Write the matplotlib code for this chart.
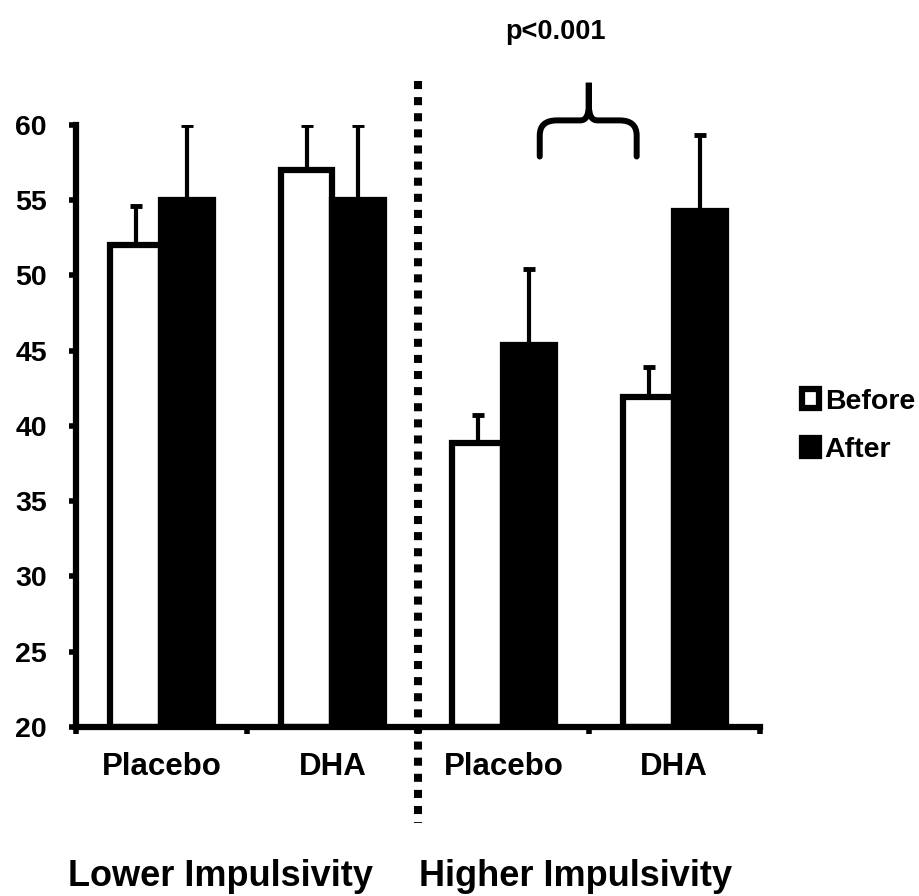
import matplotlib
matplotlib.use("Agg")
import matplotlib.pyplot as plt
from matplotlib.path import Path
from matplotlib.patches import PathPatch
import numpy as np

plt.rcParams['font.family'] = ['Liberation Sans', 'DejaVu Sans']
plt.rcParams['font.weight'] = 'bold'

# data
categories = ['Placebo', 'DHA', 'Placebo', 'DHA']
groups = ['Lower Impulsivity', 'Higher Impulsivity']
before = [52.0, 57.0, 38.9, 41.9]
before_err = [2.6, 3.0, 1.8, 2.0]
after = [55.0, 55.0, 45.4, 54.3]
after_err = [5.0, 5.0, 5.0, 5.0]
yticks = [20, 25, 30, 35, 40, 45, 50, 55, 60]
sig_label = 'p<0.001'

fig = plt.figure(figsize=(9.19, 8.96), dpi=100)
ax = fig.add_axes([0.0827, 0.1886, 0.744, 0.672])

x = np.arange(len(categories)) + 0.5
w = 0.3
lw = 4.5

# upper-only error bars, drawn under the bars
ax.errorbar(x - w / 2, before, yerr=[np.zeros(4), before_err], fmt='none',
            ecolor='black', elinewidth=3, capsize=4.5, capthick=3.5, zorder=1)
ax.errorbar(x + w / 2, after, yerr=[np.zeros(4), after_err], fmt='none',
            ecolor='black', elinewidth=3, capsize=4.5, capthick=3.5, zorder=1)
b1 = ax.bar(x - w / 2, np.array(before) - 20, w, bottom=20, color='white',
            edgecolor='black', linewidth=lw, label='Before', zorder=2)
b2 = ax.bar(x + w / 2, np.array(after) - 20, w, bottom=20, color='black',
            edgecolor='black', linewidth=lw, label='After', zorder=2)

ax.set_xlim(0, 4)
ax.set_ylim(20, 60)
ax.set_yticks(yticks)
ax.set_yticklabels([str(t) for t in yticks], fontsize=20.5, fontweight='bold')
ax.set_xticks([0, 1, 2, 3, 4])
ax.set_xticklabels([])
ax.set_xticks(x, minor=True)
ax.set_xticklabels(categories, minor=True, fontsize=22.5, fontweight='bold')
ax.tick_params(axis='y', direction='out', length=5, width=4, pad=16)
ax.tick_params(axis='x', which='major', direction='out', length=5, width=4)
ax.tick_params(axis='x', which='minor', length=0, pad=18)
for s in ['top', 'right']:
    ax.spines[s].set_visible(False)
for s in ['left', 'bottom']:
    ax.spines[s].set_linewidth(4.5)

# dotted separator, drawn top-down so the pattern starts at the top
ax.plot([2, 2], [62.9, 13.6], color='black', lw=5.8, ls=(0, (1, 1)),
        dash_capstyle='butt', clip_on=False, zorder=3)

# brace over higher impulsivity groups
xl, xm, xr = 2.713, 3.0, 3.28
yb, yh, yp = 57.9, 60.3, 62.8
verts = [(xl, yb), (xl, yh - 1.0), (xl, yh), (xl + 0.1, yh),
         (xm - 0.05, yh), (xm, yh), (xm, yh + 1.0), (xm, yp),
         (xm, yh + 1.0), (xm, yh), (xm + 0.05, yh),
         (xr - 0.1, yh), (xr, yh), (xr, yh - 1.0), (xr, yb)]
codes = [Path.MOVETO, Path.LINETO, Path.CURVE3, Path.CURVE3,
         Path.LINETO, Path.CURVE3, Path.CURVE3, Path.LINETO,
         Path.LINETO, Path.CURVE3, Path.CURVE3,
         Path.LINETO, Path.CURVE3, Path.CURVE3, Path.LINETO]
ax.add_patch(PathPatch(Path(verts, codes), fill=False, lw=4.3,
                       edgecolor='black', clip_on=False, capstyle='round'))

fig.text(555 / 919, 1 - 32 / 896, sig_label, ha='center', va='center',
         fontsize=19.5, fontweight='bold')
fig.text(221 / 919, 1 - 876 / 896, groups[0], ha='center', va='center',
         fontsize=26, fontweight='bold')
fig.text(576 / 919, 1 - 876 / 896, groups[1], ha='center', va='center',
         fontsize=26, fontweight='bold')

ax.legend(handles=[b1, b2], loc='center left', bbox_to_anchor=(1.045, 0.5),
          frameon=False, handlelength=0.6, handleheight=0.6,
          handletextpad=0.2, labelspacing=0.8, borderaxespad=0,
          prop={'weight': 'bold', 'size': 20.5})

fig.savefig('out.png', dpi=100)
